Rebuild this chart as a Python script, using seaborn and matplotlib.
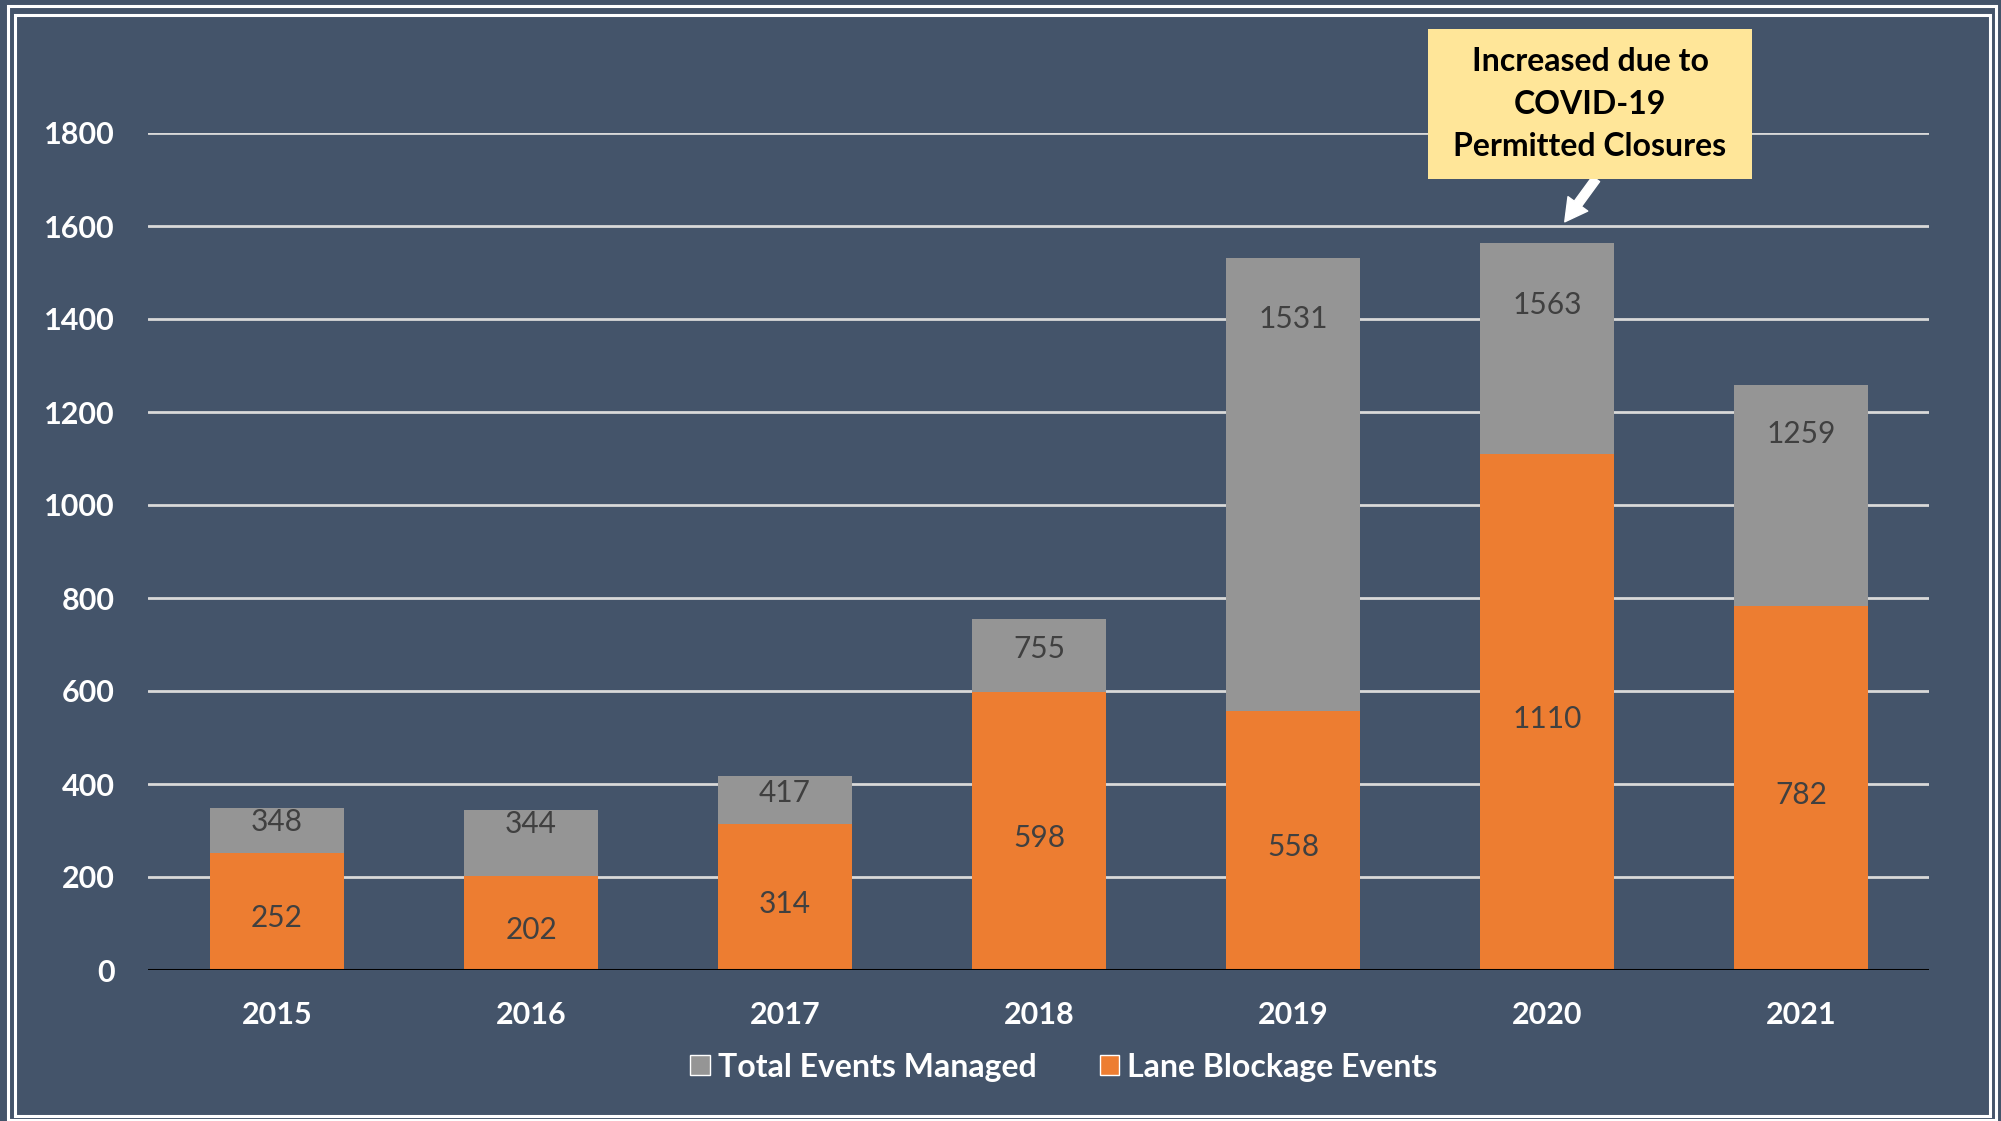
import matplotlib
matplotlib.use('Agg')
import matplotlib.pyplot as plt
import seaborn as sns
import pandas as pd
from matplotlib.patches import Rectangle, Patch

# Chart data
years = ['2015', '2016', '2017', '2018', '2019', '2020', '2021']
total_events = [348, 344, 417, 755, 1531, 1563, 1259]
lane_blockage = [252, 202, 314, 598, 558, 1110, 782]
y_ticks = [0, 200, 400, 600, 800, 1000, 1200, 1400, 1600, 1800]
note_text = 'Increased due to\nCOVID-19\nPermitted Closures'
note_year = '2020'

BG = '#44546A'
ORANGE = '#ED7D31'
GRAY = '#959595'
LABEL = '#404040'

sns.set_style('white')
plt.rcParams['font.family'] = ['Lato', 'DejaVu Sans']

df = pd.DataFrame({'year': years, 'total': total_events, 'lane': lane_blockage})

W, H = 2001, 1121
fig = plt.figure(figsize=(W / 100, H / 100), dpi=100, facecolor=BG)
ax = fig.add_axes([148 / W, 1 - 970 / H, (1929 - 148) / W, (970 - 133) / H])
ax.set_facecolor(BG)

# grid lines behind the bars
for t in y_ticks[1:]:
    ax.axhline(t, color='#D9D9D9', lw=2, zorder=0)

sns.barplot(data=df, x='year', y='total', color=GRAY, width=0.528,
            saturation=1, linewidth=0, edgecolor='none', ax=ax, zorder=2)
sns.barplot(data=df, x='year', y='lane', color=ORANGE, width=0.528,
            saturation=1, linewidth=0, edgecolor='none', ax=ax, zorder=3)

ax.axhline(0, color='black', lw=2.2, zorder=4)
ax.set_xlim(-0.508, 6.504)
ax.set_ylim(0, 1800)
ax.set_yticks(y_ticks)
ax.set_xlabel('')
ax.set_ylabel('')
for s in ax.spines.values():
    s.set_visible(False)
ax.tick_params(axis='both', length=0, labelsize=22, labelcolor='white')
ax.tick_params(axis='y', pad=24)
ax.tick_params(axis='x', pad=22)
for lab in ax.get_xticklabels() + ax.get_yticklabels():
    lab.set_fontweight('bold')

# value labels
for i, (tot, lane) in enumerate(zip(total_events, lane_blockage)):
    ax.text(i, tot * 0.915, str(tot), ha='center', va='center',
            fontsize=21.5, color=LABEL, zorder=5)
    ax.annotate(str(lane), (i, lane / 2), xytext=(0, -5), textcoords='offset points',
                ha='center', va='center', fontsize=21.5, color=LABEL, zorder=5)

# legend
handles = [Patch(facecolor=GRAY, label='Total Events Managed'),
           Patch(facecolor=ORANGE, label='Lane Blockage Events')]
leg = fig.legend(handles=handles, loc='center', bbox_to_anchor=(1064 / W, 1 - 1067 / H),
                 ncol=2, frameon=False, handlelength=0.6, handleheight=0.6,
                 handletextpad=0.25, columnspacing=2.0, fontsize=23)
for t in leg.get_texts():
    t.set_color('white')
    t.set_fontweight('bold')

# callout box
fig.patches.append(Rectangle((1428 / W, 1 - 179 / H), (1752 - 1428) / W, (179 - 29) / H,
                             transform=fig.transFigure, facecolor='#FFE699',
                             edgecolor='none', zorder=6))
fig.text(1590 / W, 1 - 104 / H, note_text, ha='center', va='center', fontsize=23,
         fontweight='bold', color='black', linespacing=1.57, zorder=7)
xi = years.index(note_year)
ax.annotate('', xy=(xi + 0.07, 1609), xytext=(1596 / W, 1 - 179 / H),
            textcoords='figure fraction', annotation_clip=False,
            arrowprops=dict(arrowstyle='simple,head_length=1.0,head_width=1.1,tail_width=0.4',
                            mutation_scale=16, shrinkA=0, shrinkB=0,
                            facecolor='white', edgecolor='white'), zorder=7)

# double white frame
for (l, t, r, b) in [(8, 6, 1996, 1120), (15, 15, 1990, 1116)]:
    fig.patches.append(Rectangle((l / W, 1 - b / H), (r - l) / W, (b - t) / H,
                                 transform=fig.transFigure, facecolor='none',
                                 edgecolor='white', lw=2.2, zorder=10))

fig.savefig('out.png', dpi=100, facecolor=BG)
